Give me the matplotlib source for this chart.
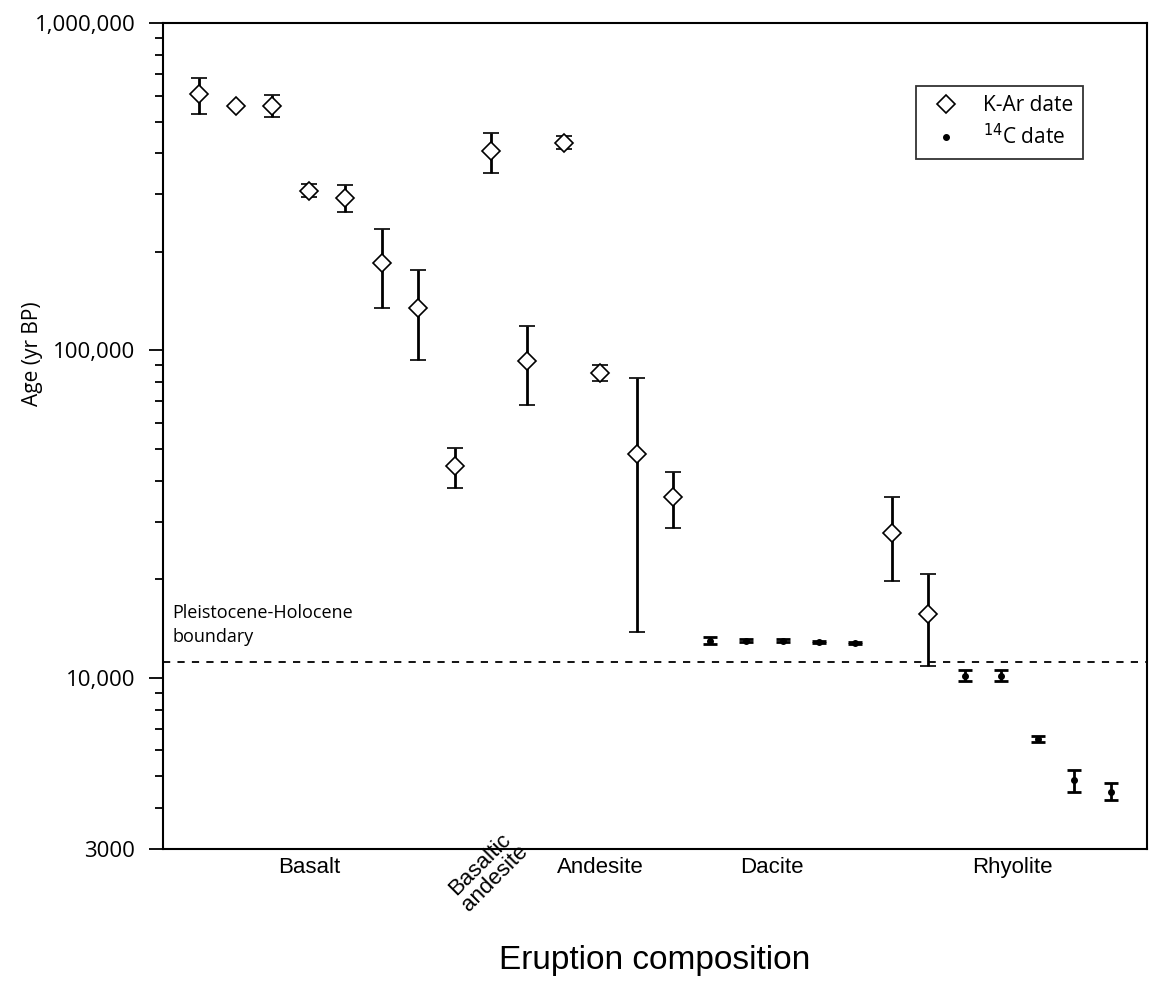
import matplotlib
matplotlib.use("Agg")
import matplotlib.pyplot as plt
import matplotlib.ticker as mticker
from matplotlib.lines import Line2D

# K-Ar dates: position, age, upper, lower (yr BP)
kar_x = [1, 2, 3, 4, 5, 6, 7, 8, 9, 10, 11, 12, 13, 14, 20, 21]
kar_age = [607000, 558000, 558000, 307000, 292000, 185000, 135000, 44500,
           407000, 93000, 431000, 85500, 48400, 35600, 27600, 15700]
kar_hi = [679000, 558000, 602000, 322000, 321000, 235000, 176000, 50500,
          462000, 119000, 452000, 90500, 82600, 42400, 35600, 20700]
kar_lo = [527000, 558000, 516000, 295000, 265000, 135000, 93800, 38100,
          349000, 67900, 413000, 80900, 13800, 28600, 19800, 10900]

# 14C dates
c14_x = [15, 16, 17, 18, 19, 22, 23, 24, 25, 26]
c14_age = [13000, 13000, 13000, 12900, 12800, 10100, 10100, 6500, 4870, 4480]
c14_hi = [13300, 13100, 13100, 13000, 12900, 10600, 10600, 6620, 5220, 4770]
c14_lo = [12700, 12900, 12900, 12800, 12700, 9750, 9750, 6380, 4480, 4230]

boundary = 11200

groups = ["Basalt", "Basaltic\nandesite", "Andesite", "Dacite", "Rhyolite"]
group_x = [4, 8.9, 12, 16.7, 23.3]

fig = plt.figure(figsize=(11.49, 10.06), dpi=100)
ax = fig.add_axes([163 / 1149, 1 - 849 / 1006, (1147 - 163) / 1149, (849 - 23) / 1006])

kyerr = [[a - l for a, l in zip(kar_age, kar_lo)], [h - a for a, h in zip(kar_age, kar_hi)]]
cyerr = [[a - l for a, l in zip(c14_age, c14_lo)], [h - a for a, h in zip(c14_age, c14_hi)]]

ax.errorbar(kar_x, kar_age, yerr=kyerr, fmt='D', ms=9, mfc='white', mec='black', mew=1.2,
            ecolor='black', elinewidth=2, capsize=6, capthick=2, zorder=3)
ax.errorbar(c14_x, c14_age, yerr=cyerr, fmt='o', ms=4, mfc='black', mec='black',
            ecolor='black', elinewidth=2, capsize=5, capthick=2, zorder=3)

ax.axhline(boundary, color='black', ls=(0, (4, 4)), lw=1.3)
ax.text(0.25, 12500, "Pleistocene-Holocene\nboundary", fontsize=13, family='Open Sans',
        va='bottom', ha='left', linespacing=1.4)

ax.set_yscale('log')
ax.set_ylim(3000, 1000000)
ax.set_xlim(0, 27)
ax.set_xticks([])
ax.yaxis.set_major_locator(mticker.FixedLocator([3000, 10000, 100000, 1000000]))
ax.yaxis.set_major_formatter(mticker.FixedFormatter(["3000", "10,000", "100,000", "1,000,000"]))
ax.yaxis.set_minor_locator(mticker.LogLocator(base=10, subs=range(2, 10)))
ax.yaxis.set_minor_formatter(mticker.NullFormatter())
ax.tick_params(axis='y', which='major', length=10, width=1.3, labelsize=16, pad=10)
ax.tick_params(axis='y', which='minor', length=6, width=1.3)
for lab in ax.get_yticklabels():
    lab.set_family('Open Sans')
for s in ax.spines.values():
    s.set_linewidth(1.5)

ax.set_ylabel("Age (yr BP)", fontsize=15, family='Open Sans')
ax.yaxis.set_label_coords(-0.122, 0.6)

for name, gx in zip(groups, group_x):
    if "\n" in name:
        ax.text(gx, -0.027, name, transform=ax.get_xaxis_transform(), rotation=45,
                ha='center', va='center', fontsize=16, family='Liberation Sans',
                multialignment='center', linespacing=1.0)
    else:
        ax.text(gx, -0.022, name, transform=ax.get_xaxis_transform(),
                ha='center', va='center', fontsize=16, family='Liberation Sans')
ax.text(0.5, -0.135, "Eruption composition", transform=ax.transAxes, ha='center', va='center',
        fontsize=24, family='Liberation Sans')

handles = [Line2D([], [], ls='none', marker='D', ms=9, mfc='white', mec='black', mew=1.2),
           Line2D([], [], ls='none', marker='o', ms=4, mfc='black', mec='black')]
leg = ax.legend(handles, ['K-Ar date', '$^{14}$C date'], loc='upper right',
                bbox_to_anchor=(0.935, 0.924), borderaxespad=0, frameon=True, fancybox=False,
                edgecolor='black', prop={'family': 'Open Sans', 'size': 15},
                handletextpad=0.8, handlelength=2.0, borderpad=0.45, labelspacing=0.4)
leg.get_frame().set_linewidth(1.3)

fig.savefig("out.png", dpi=100)
